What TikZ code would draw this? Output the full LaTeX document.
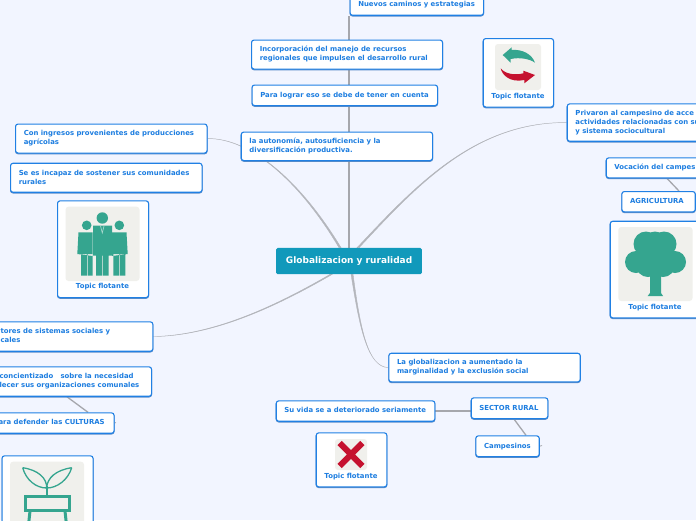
\documentclass[tikz,border=0pt]{standalone}
\usepackage{fontspec}
\usetikzlibrary{backgrounds}
\setmainfont{DejaVu Sans}
\definecolor{bgc}{HTML}{F2F5FF}
\definecolor{bord}{HTML}{2080E4}
\definecolor{txt}{HTML}{1C7DE0}
\definecolor{lin}{HTML}{B4B6BC}
\definecolor{cen}{HTML}{1199BB}
\definecolor{ico}{HTML}{F0F0EC}
\definecolor{teal}{HTML}{35A58F}
\definecolor{redi}{HTML}{C5122F}
\definecolor{shad}{HTML}{5A8CC8}
\tikzset{x=1pt,y=-1pt,
 topicbox/.style={draw=bord,fill=white,line width=1.1pt,rounded corners=2.5pt,anchor=north west,inner xsep=8.2pt,inner ysep=0pt,text=txt,font=\bfseries\fontsize{6.9}{9}\selectfont,
   preaction={draw=shad,line width=1.1pt,transform canvas={yshift=-0.7pt}}},
 tlab/.style={text=txt,font=\bfseries\fontsize{6.9}{9}\selectfont,inner sep=0pt},
 conn/.style={draw=lin!92!black,line width=1.3pt},
 ribbon/.style={fill=lin,draw=lin,line width=0.4pt},
 iconbg/.style={fill=ico,rounded corners=3pt,draw=none},
 icofill/.style={fill=teal,draw=none},
 icoline/.style={draw=teal,fill=none,line join=miter}}
\newcommand{\tnode}[6]{\node[topicbox,minimum width=#4pt,minimum height=#5pt] (#1) at (#2,#3) {\makebox[\dimexpr#4pt-16.4pt\relax][l]{\begin{tabular}{@{}l@{}}#6\end{tabular}}};}
\begin{document}
\begin{tikzpicture}
\useasboundingbox (0,0) rectangle (696,520);
\clip (0,0) rectangle (696,520);
\node[fill=cen,text=white,rounded corners=1.5pt,minimum width=145.7pt,minimum height=26.3pt,anchor=north west,inner sep=0pt,font=\bfseries\fontsize{9}{11}\selectfont] (c) at (276,247.7) {Globalizacion y ruralidad};
\tnode{nuevos}{349.5}{-5.7}{133.5}{20.4}{Nuevos caminos y estrategias}
\tnode{incorp}{251}{39.5}{191}{29}{Incorporación del manejo de recursos\\regionales que impulsen el desarrollo rural}
\tnode{para}{251.5}{84.5}{185.5}{20.5}{Para lograr eso se debe de tener en cuenta}
\tnode{auto}{240.7}{131.5}{191.3}{28.5}{la autonomía, autosuficiencia y la\\diversificación productiva.}
\tnode{ingr}{15}{123.5}{191.5}{29}{Con ingresos provenientes de producciones\\agrícolas}
\tnode{sees}{10}{162.7}{191.5}{29}{Se es incapaz de sostener sus comunidades\\rurales}
\tnode{tores}{-8.2}{321.3}{160.5}{29.4}{tores de sistemas sociales y\\cales}
\tnode{conc}{-9.2}{366.3}{160.2}{29.4}{concientizado\ \ \ sobre la necesidad\\lecer sus organizaciones comunales}
\tnode{cult}{-10.2}{412.3}{123.7}{20.4}{ara defender las CULTURAS}
\tnode{glob}{388.3}{352.7}{191.4}{28.6}{La globalizacion a aumentado la\\marginalidad y la exclusión social}
\tnode{vida}{275.7}{400.3}{158.6}{20.4}{Su vida se a deteriorado seriamente}
\tnode{sector}{470.7}{397.3}{76.6}{20.7}{SECTOR RURAL}
\tnode{camp}{475.3}{435.3}{63.4}{20.7}{Campesinos}
\tnode{priv}{566.7}{103.3}{191.5}{37.4}{Privaron al campesino de acce\\actividades relacionadas con su\\y sistema sociocultural}
\tnode{voc}{605.7}{157.3}{130}{20}{Vocación del campes}
\tnode{agri}{621.3}{191}{73.4}{20.3}{AGRICULTURA}
\node[topicbox,minimum width=70.3pt,minimum height=68.5pt] (tarrow) at (482.7,38) {};
\node[topicbox,minimum width=91pt,minimum height=96.7pt] (tpeople) at (57,200.3) {};
\node[topicbox,minimum width=91pt,minimum height=96.6pt] (ttree) at (609.7,220.7) {};
\node[topicbox,minimum width=70.6pt,minimum height=54pt] (tx) at (315.7,432.3) {};
\node[topicbox,minimum width=91pt,minimum height=96pt] (tplant) at (1.5,455.3) {};
\node[tlab] (l1) at (518,96.5) {Topic flotante};
\node[tlab] (l2) at (102.5,287) {Topic flotante};
\node[tlab] (l3) at (655,307.3) {Topic flotante};
\node[tlab] (l4) at (351,476.5) {Topic flotante};
% stubs' free ends
\coordinate (cultend) at (116,422.5);
\coordinate (agriend) at (697,201);
\coordinate (campend) at (542,445.5);
\begin{scope}[on background layer]
\fill[bgc] (0,0) rectangle (696,520);
\draw[conn,line width=1.9pt] (c.north) -- (c.north |- nuevos.south);
% tapered curves from the central topic
\fill[ribbon] (ingr.east) .. controls (250,138) and (300,180) .. ([xshift=-8pt]c.north) -- ([xshift=-10pt]c.north) .. controls (299,180.4) and (250,138.2) .. (ingr.east) -- cycle;
\fill[ribbon] (priv.west) .. controls (475,122) and (416.5,186) .. ([xshift=10pt]c.north) -- ([xshift=8pt]c.north) .. controls (415.5,185.4) and (475,121.8) .. (priv.west) -- cycle;
\fill[ribbon] (tores.east) .. controls (210,335.8) and (270,310.3) .. ([xshift=-17pt]c.south) -- ([xshift=-19pt]c.south) .. controls (270,309.3) and (210,335.4) .. (tores.east) -- cycle;
\fill[ribbon] (glob.west) .. controls (368,367.2) and (360.5,330) .. ([xshift=4pt]c.south) -- ([xshift=2pt]c.south) .. controls (359.8,330) and (368,366.8) .. (glob.west) -- cycle;
\draw[conn] (conc.south -| 67,0) -- (cult.north -| 88,0);
\draw[conn] (voc.south -| 667,0) -- (agri.north -| 679,0);
\draw[conn] (sector.south -| 514,0) -- (camp.north -| 526,0);
\draw[conn] (vida.east) -- (vida.east -| sector.west);
\draw[conn,line width=0.8pt] (cult.east) -- (cultend);
\draw[conn,line width=0.8pt] (agri.east) -- (agriend);
\draw[conn,line width=0.8pt] (camp.east) -- (campend);
\end{scope}
% arrows icon
\fill[iconbg] (495,44) rectangle (541,90);
\fill[icofill] (502.7,55) -- (511.7,47.3) -- (511.7,50) .. controls (522,49) and (532,54) .. (535,62.7) .. controls (530,59) and (520,57) .. (510.7,59) -- (510.7,62.7) -- cycle;
\fill[redi] (535,75) -- (523.3,70.7) -- (523.3,73.3) .. controls (515,75.5) and (505,74) .. (500.7,68.3) .. controls (502,75) and (510,83) .. (524.3,80) -- (524.3,83.3) -- cycle;
% people icon
\fill[iconbg] (65.5,206.7) rectangle (139.5,281);
\fill[icofill] (102.3,218) circle (5.7) (86.7,225.3) circle (4.8) (119.3,225.3) circle (4.8);
\fill[icofill] (93,225.7) rectangle (112,255.7) (96,255) rectangle (101.9,275.7) (102.7,255) rectangle (108.7,275.7);
\fill[icofill] (78.5,232.3) -- (92.5,232.3) -- (92.5,256) -- (77.3,254) -- cycle (81,254) rectangle (86.8,275.7) (87.5,254) rectangle (92.7,275.7);
\fill[icofill] (112,232.3) -- (126.5,232.3) -- (127.7,254) -- (112,256) -- cycle (113.3,254) rectangle (119.3,275.7) (120,254) rectangle (125.3,275.7);
\draw[white!60!teal,line width=0.6pt] (100.5,226) -- (102.3,233) -- (104,226);
% tree icon
\fill[iconbg] (618.3,227) rectangle (692.5,301);
\fill[icofill] (646,244) circle (12.5) (664,244) circle (12.5) (655,243) circle (11.5) (636,262) circle (11) (675,262) circle (11) (648,265) circle (12) (663,265) circle (12) (655,255) circle (19);
\fill[icofill] (650,270) -- (661,270) -- (661,293) -- (663,296) -- (647.7,296) -- (650,293) -- cycle;
% cross icon
\fill[iconbg] (335,439) rectangle (367,470);
\draw[redi,line width=6pt] (339.6,443) -- (362.4,466) (362.4,443) -- (339.6,466);
% plant icon
\fill[iconbg] (10,461.7) rectangle (84,535);
\draw[icoline,line width=1.3pt] (22.7,467.7) .. controls (38,470) and (47,478) .. (46.7,488) .. controls (36,488) and (26,480) .. (22.7,467.7);
\draw[icoline,line width=1.3pt] (71.7,467.7) .. controls (56,470) and (47,478) .. (46.7,488) .. controls (57,488) and (68,480) .. (71.7,467.7);
\draw[icoline,line width=1.6pt] (46.7,486) -- (46.7,496);
\draw[icoline,line width=3pt] (25.5,496.5) rectangle (69.2,510.2);
\draw[icoline,line width=3pt] (30,511) -- (28.5,525) (65,511) -- (66.5,525);
\end{tikzpicture}
\end{document}
